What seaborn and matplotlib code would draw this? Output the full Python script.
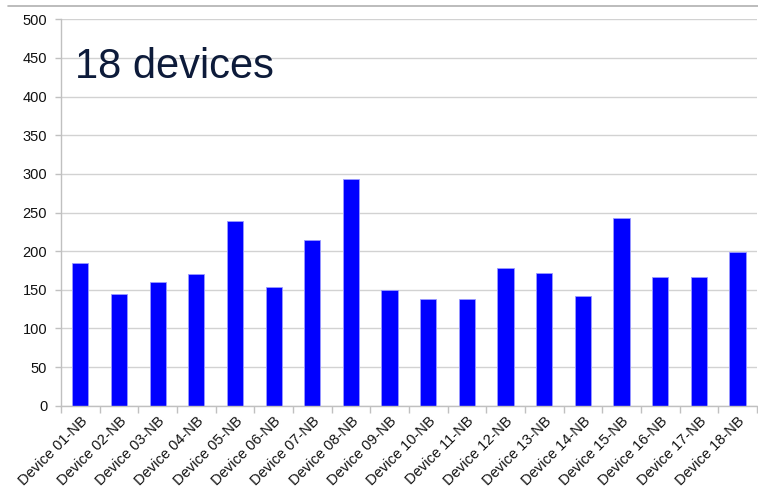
import pandas as pd
import matplotlib.pyplot as plt
import matplotlib.lines as mlines
from matplotlib.ticker import MultipleLocator, FixedLocator
import seaborn as sns

# Data
devices = [f"Device {i:02d}-NB" for i in range(1, 19)]
counts = [185, 144, 160, 171, 239, 153, 214, 294, 150,
          138, 138, 178, 172, 142, 243, 167, 166, 199]
y_ticks = [0, 50, 100, 150, 200, 250, 300, 350, 400, 450, 500]

sns.set_style("white")
plt.rcParams['font.family'] = ['Liberation Sans', 'DejaVu Sans']

df = pd.DataFrame({"device": devices, "count": counts})

fig = plt.figure(figsize=(7.58, 4.95), dpi=100)
ax = fig.add_axes([0.0805, 0.1804, 0.918, 0.7806])

sns.barplot(data=df, x="device", y="count", color="#0000ff",
            saturation=1, width=0.42, edgecolor="#9a9aff", linewidth=0.6, ax=ax)

ax.set_ylim(0, 500)
ax.set_xlim(-0.5, len(devices) - 0.5)
ax.yaxis.set_major_locator(FixedLocator(y_ticks))
ax.grid(axis="y", color="#d2d2d2", linewidth=1.0)
ax.set_axisbelow(True)

# tick marks at category boundaries, labels at category centres
ax.xaxis.set_minor_locator(MultipleLocator(1, offset=0.5))
ax.tick_params(axis="x", which="minor", length=5, color="#c0c0c0", width=1, bottom=True)
ax.tick_params(axis="x", which="major", length=0, pad=6, labelsize=10.5, labelcolor="#111111")
ax.tick_params(axis="y", length=4, color="#c0c0c0", width=1, left=True, pad=6,
               labelsize=10.5, labelcolor="#111111")
plt.setp(ax.get_xticklabels(), rotation=45, ha="right", rotation_mode="anchor")

for side in ["top", "right"]:
    ax.spines[side].set_visible(False)
for side in ["left", "bottom"]:
    ax.spines[side].set_color("#c0c0c0")
    ax.spines[side].set_linewidth(1)

ax.set_xlabel("")
ax.set_ylabel("")

ax.text(0.02, 0.877, "18 devices", transform=ax.transAxes, fontsize=30,
        color="#0d1b3a", va="center", ha="left")

# thin gray rule across the top of the slide
fig.add_artist(mlines.Line2D([0.01, 1.0], [0.988, 0.988], color="#b0b0b0",
                             linewidth=1.2, transform=fig.transFigure))

fig.savefig("out.png", dpi=100)
